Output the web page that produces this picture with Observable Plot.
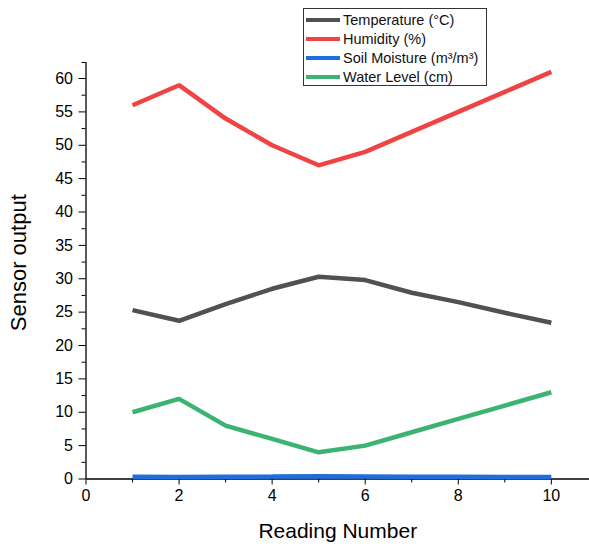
<!DOCTYPE html>
<html>
<head>
<meta charset="utf-8">
<script src="https://cdn.jsdelivr.net/npm/d3@7"></script>
<script src="https://cdn.jsdelivr.net/npm/@observablehq/plot@0.6"></script>
<style>
  html, body { margin: 0; padding: 0; background: #fff; }
  #wrap { position: relative; width: 589px; height: 548px; font-family: "Liberation Sans", Arial, sans-serif; }
  #legend { position: absolute; left: 303px; top: 8px; width: 184px; height: 78px; border: 1px solid #333; background: #fff; box-sizing: border-box; padding-top: 1px; }
  .row { display: flex; align-items: center; height: 19px; font-size: 14.5px; color: #111; white-space: nowrap; }
  .sw { width: 34px; height: 4px; margin-left: 2px; margin-right: 3px; flex: none; }
</style>
</head>
<body>
<div id="wrap"></div>
<script>
const readings = [1, 2, 3, 4, 5, 6, 7, 8, 9, 10];
const temperature = [25.3, 23.7, 26.2, 28.5, 30.3, 29.8, 27.9, 26.5, 24.9, 23.4];
const humidity = [56, 59, 54, 50, 47, 49, 52, 55, 58, 61];
const soilMoisture = [0.32, 0.30, 0.33, 0.36, 0.40, 0.38, 0.35, 0.33, 0.31, 0.29];
const waterLevel = [10, 12, 8, 6, 4, 5, 7, 9, 11, 13];
const seriesNames = ["Temperature (°C)", "Humidity (%)", "Soil Moisture (m³/m³)", "Water Level (cm)"];
const seriesColors = ["#515151", "#f04444", "#1f6ede", "#3cb371"];
const xMajor = [0, 2, 4, 6, 8, 10];
const xMinor = [1, 3, 5, 7, 9];
const yMajor = [0, 5, 10, 15, 20, 25, 30, 35, 40, 45, 50, 55, 60];
const yMinor = [2.5, 7.5, 12.5, 17.5, 22.5, 27.5, 32.5, 37.5, 42.5, 47.5, 52.5, 57.5, 62.4];

const allSeries = [temperature, humidity, soilMoisture, waterLevel];
const rows = [];
allSeries.forEach((vals, i) => vals.forEach((v, j) => rows.push({ series: seriesNames[i], x: readings[j], y: v })));

const chart = Plot.plot({
  width: 589,
  height: 548,
  marginLeft: 85.5,
  marginRight: 0,
  marginTop: 62,
  marginBottom: 69.5,
  style: { fontFamily: "Liberation Sans, Arial, sans-serif", fontSize: "16px", color: "#000", background: "#fff" },
  x: { domain: [0, 10.82] },
  y: { domain: [0, 62.4] },
  color: { domain: seriesNames, range: seriesColors },
  marks: [
    Plot.axisY({ ticks: yMajor, tickSize: 7, tickPadding: 6, label: null, fontSize: 16 }),
    Plot.axisY({ ticks: yMinor, tickSize: 4, tickFormat: () => "", label: null }),
    Plot.axisX({ ticks: xMajor, tickSize: 6, tickPadding: 5, label: null, fontSize: 16 }),
    Plot.axisX({ ticks: xMinor, tickSize: 4, tickFormat: () => "", label: null }),
    Plot.ruleX([0], { stroke: "#000", strokeWidth: 1.3 }),
    Plot.ruleY([0], { stroke: "#000", strokeWidth: 1.3 }),
    Plot.line(rows, { x: "x", y: "y", z: "series", stroke: "series", strokeWidth: 4.5, strokeLinejoin: "miter", strokeLinecap: "butt" }),
    Plot.text(["Reading Number"], { frameAnchor: "bottom", dy: 59, fontSize: 21, fill: "#000" }),
    Plot.text(["Sensor output"], { frameAnchor: "left", textAnchor: "middle", dx: -67, dy: -8, rotate: -90, fontSize: 22, fill: "#000" })
  ]
});

const wrap = document.getElementById("wrap");
wrap.appendChild(chart);
const legend = document.createElement("div");
legend.id = "legend";
seriesNames.forEach((name, i) => {
  const r = document.createElement("div");
  r.className = "row";
  const sw = document.createElement("span");
  sw.className = "sw";
  sw.style.background = seriesColors[i];
  const t = document.createElement("span");
  t.textContent = name;
  r.appendChild(sw);
  r.appendChild(t);
  legend.appendChild(r);
});
wrap.appendChild(legend);
</script>
</body>
</html>
